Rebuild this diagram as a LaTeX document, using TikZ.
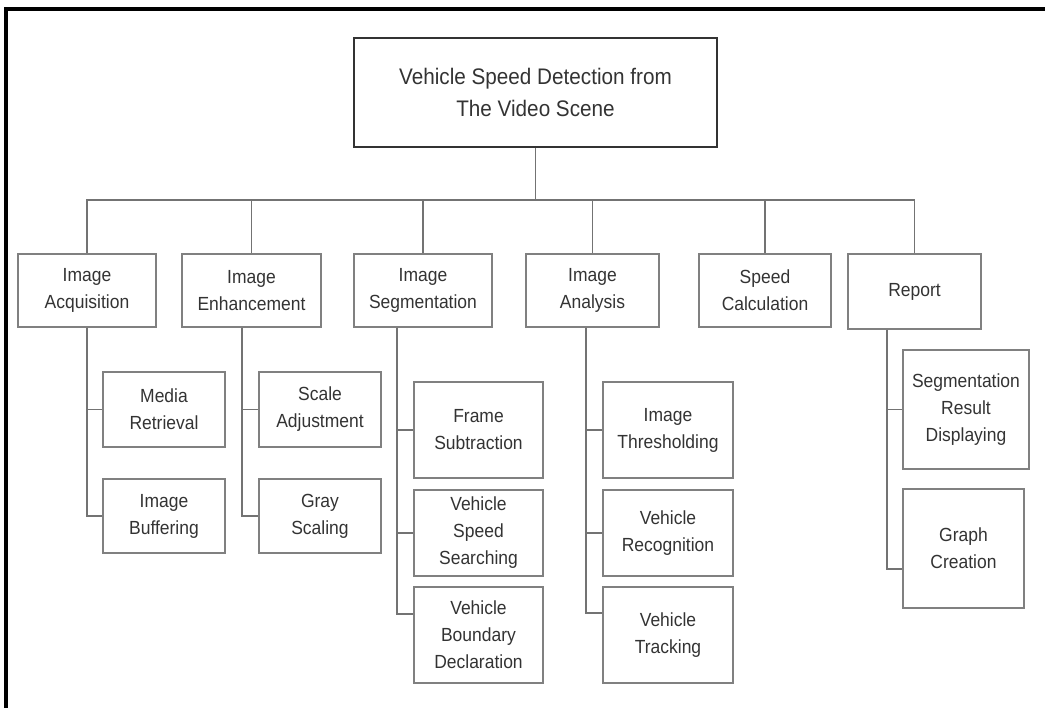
\documentclass[tikz,border=0pt]{standalone}
\usepackage{fontspec}
\setmainfont{Liberation Sans}[FakeStretch=0.92]
\begin{document}
\begin{tikzpicture}[x=1pt,y=-1pt,
  box/.style={draw=black!50, line width=1.6pt, inner sep=0pt, align=center,
    text=black!80, font=\fontsize{19}{27}\selectfont},
  rootbox/.style={draw=black!80, line width=2.6pt, inner sep=0pt, align=center,
    text=black!80, font=\fontsize{22.5}{32}\selectfont,
    minimum width=363pt, minimum height=109pt},
  link/.style={draw=black!55, line width=1.5pt},
  frameline/.style={draw=black, line width=3.5pt}]
\useasboundingbox (0,0) rectangle (1045,708);

% outer frame (top and left edges)
\draw[frameline] (6,708) -- (6,9) -- (1045,9);

% root
\node[rootbox] (root) at (535.5,92.5) {Vehicle Speed Detection from\\The Video Scene};

% first level
\node[box, minimum width=138pt, minimum height=73pt] (acq) at (87,290.5) {Image\\Acquisition};
\node[box, minimum width=139pt, minimum height=73pt] (enh) at (251.5,290.5) {Image\\Enhancement};
\node[box, minimum width=138pt, minimum height=73pt] (seg) at (423,290.5) {Image\\Segmentation};
\node[box, minimum width=133pt, minimum height=73pt] (ana) at (592.5,290.5) {Image\\Analysis};
\node[box, minimum width=132pt, minimum height=73pt] (spd) at (765,290.5) {Speed\\Calculation};
\node[box, minimum width=133pt, minimum height=75pt] (rep) at (914.5,291.5) {Report};

% second level
\node[box, minimum width=122pt, minimum height=75pt] (mr) at (164,409.5) {Media\\Retrieval};
\node[box, minimum width=122pt, minimum height=74pt] (ib) at (164,516) {Image\\Buffering};
\node[box, minimum width=122pt, minimum height=75pt] (sa) at (320,409.5) {Scale\\Adjustment};
\node[box, minimum width=122pt, minimum height=74pt] (gs) at (320,516) {Gray\\Scaling};
\node[box, minimum width=129pt, minimum height=96pt] (fs) at (478.5,430) {Frame\\Subtraction};
\node[box, minimum width=129pt, minimum height=86pt] (vss) at (478.5,533) {Vehicle\\Speed\\Searching};
\node[box, minimum width=129pt, minimum height=96pt] (vbd) at (478.5,635) {Vehicle\\Boundary\\Declaration};
\node[box, minimum width=130pt, minimum height=96pt] (it) at (668,430) {Image\\Thresholding};
\node[box, minimum width=130pt, minimum height=86pt] (vr) at (668,533) {Vehicle\\Recognition};
\node[box, minimum width=130pt, minimum height=96pt] (vt) at (668,635) {Vehicle\\Tracking};
\node[box, minimum width=126pt, minimum height=119pt] (srd) at (966,409.5) {Segmentation\\Result\\Displaying};
\node[box, minimum width=121pt, minimum height=119pt] (gc) at (963.5,548.5) {Graph\\Creation};

% bus from the root to the first level
\coordinate (bus) at (0,200);
\foreach \c in {acq,enh,seg,ana,spd,rep}
  \draw[link] (root.south) -- (root.south |- bus) -| (\c.north);

% spines to the second level
\draw[link] (acq.south) |- (mr.west);
\draw[link] (acq.south) |- (ib.west);
\draw[link] ([xshift=-9.5pt]enh.south) |- (sa.west);
\draw[link] ([xshift=-9.5pt]enh.south) |- (gs.west);
\draw[link] ([xshift=-26pt]seg.south) |- (fs.west);
\draw[link] ([xshift=-26pt]seg.south) |- (vss.west);
\draw[link] ([xshift=-26pt]seg.south) |- ([yshift=21pt]vbd.west);
\draw[link] ([xshift=-6.5pt]ana.south) |- (it.west);
\draw[link] ([xshift=-6.5pt]ana.south) |- (vr.west);
\draw[link] ([xshift=-6.5pt]ana.south) |- ([yshift=22pt]vt.west);
\draw[link] ([xshift=-27.5pt]rep.south) |- (srd.west);
\draw[link] ([xshift=-27.5pt]rep.south) |- ([yshift=-20.5pt]gc.west);
\end{tikzpicture}
\end{document}
